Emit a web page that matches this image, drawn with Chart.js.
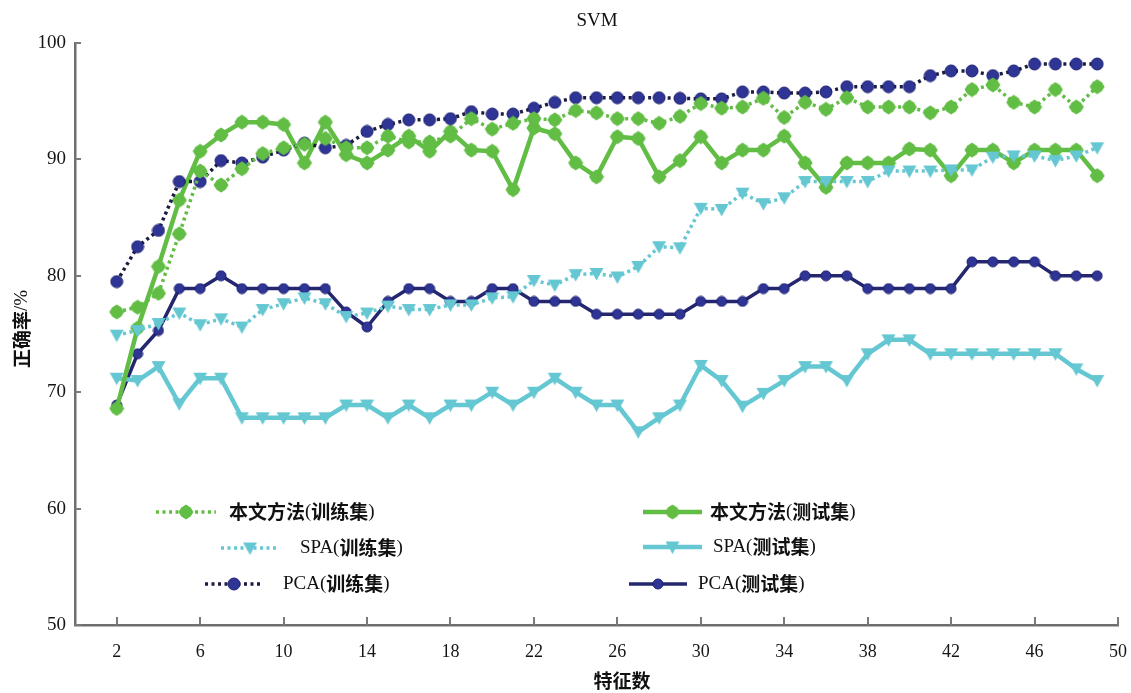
<!DOCTYPE html>
<html>
<head>
<meta charset="utf-8">
<title>SVM</title>
<script src="https://cdn.jsdelivr.net/npm/chart.js@4.4.1/dist/chart.umd.min.js"></script>
<style>
  html, body { margin: 0; padding: 0; background: #ffffff; }
  #wrap { width: 1131px; height: 693px; position: relative; }
</style>
</head>
<body>
<div id="wrap"><canvas id="chart" width="1131" height="693"></canvas></div>
<script>
// Number of features on the x axis
const featureCounts = [2, 3, 4, 5, 6, 7, 8, 9, 10, 11, 12, 13, 14, 15, 16, 17, 18, 19, 20, 21, 22, 23, 24, 25,
                       26, 27, 28, 29, 30, 31, 32, 33, 34, 35, 36, 37, 38, 39, 40, 41, 42, 43, 44, 45, 46, 47, 48, 49];
const xTickValues = [2, 6, 10, 14, 18, 22, 26, 30, 34, 38, 42, 46, 50];
const yTickValues = [50, 60, 70, 80, 90, 100];

// Accuracy (%) per method and data split
const oursTrain = [76.9, 77.3, 78.5, 83.6, 89.0, 87.8, 89.2, 90.5, 91.0, 91.3, 91.8, 91.0, 91.0, 92.0, 91.5, 91.5,
                   92.0, 93.5, 92.6, 93.1, 93.5, 93.4, 94.2, 94.0, 93.5, 93.5, 93.1, 93.7, 94.8, 94.4, 94.5, 95.25,
                   93.6, 94.9, 94.3, 95.3, 94.5, 94.5, 94.5, 94.0, 94.5, 96.0, 96.4, 94.9, 94.5, 96.0, 94.5, 96.25];
const oursTest  = [68.6, 75.5, 80.8, 86.5, 90.7, 92.1, 93.2, 93.2, 93.0, 89.7, 93.2, 90.4, 89.7, 90.8, 92.0, 90.7,
                   92.4, 90.8, 90.7, 87.4, 92.7, 92.2, 89.7, 88.5, 91.95, 91.8, 88.5, 89.9, 91.95, 89.7, 90.8, 90.8,
                   92.0, 89.7, 87.6, 89.7, 89.7, 89.7, 90.9, 90.8, 88.6, 90.8, 90.8, 89.7, 90.8, 90.8, 90.8, 88.6];
const spaTrain  = [74.9, 75.3, 75.9, 76.8, 75.8, 76.3, 75.6, 77.1, 77.6, 78.1, 77.6, 76.5, 76.8, 77.4, 77.1, 77.1,
                   77.5, 77.5, 78.1, 78.2, 79.6, 79.2, 80.1, 80.2, 79.9, 80.8, 82.5, 82.4, 85.8, 85.7, 87.1, 86.2,
                   86.7, 88.1, 88.1, 88.1, 88.1, 89.0, 89.0, 89.0, 89.1, 89.1, 90.2, 90.3, 90.3, 89.9, 90.3, 91.0];
const spaTest   = [71.2, 71.0, 72.2, 69.0, 71.2, 71.2, 67.8, 67.8, 67.8, 67.8, 67.8, 68.9, 68.9, 67.8, 68.9, 67.8,
                   68.9, 68.9, 70.0, 68.9, 70.0, 71.2, 70.0, 68.9, 68.9, 66.6, 67.8, 68.9, 72.3, 71.0, 68.8, 69.9,
                   71.0, 72.2, 72.2, 71.0, 73.3, 74.5, 74.5, 73.3, 73.3, 73.3, 73.3, 73.3, 73.3, 73.3, 72.0, 71.0];
const pcaTrain  = [79.5, 82.5, 83.9, 88.1, 88.1, 89.9, 89.7, 90.2, 90.8, 91.4, 91.0, 91.2, 92.4, 93.0, 93.4, 93.4,
                   93.5, 94.1, 93.9, 93.9, 94.4, 94.9, 95.3, 95.3, 95.3, 95.3, 95.3, 95.25, 95.2, 95.2, 95.8, 95.8,
                   95.7, 95.7, 95.8, 96.25, 96.25, 96.25, 96.25, 97.2, 97.6, 97.6, 97.2, 97.6, 98.2, 98.2, 98.2, 98.2];
const pcaTest   = [68.9, 73.3, 75.3, 78.9, 78.9, 80.0, 78.9, 78.9, 78.9, 78.9, 78.9, 76.9, 75.6, 77.8, 78.9, 78.9,
                   77.8, 77.8, 78.9, 78.9, 77.8, 77.8, 77.8, 76.7, 76.7, 76.7, 76.7, 76.7, 77.8, 77.8, 77.8, 78.9,
                   78.9, 80.0, 80.0, 80.0, 78.9, 78.9, 78.9, 78.9, 78.9, 81.2, 81.2, 81.2, 81.2, 80.0, 80.0, 80.0];

const seriesNames = ['本文方法(训练集)', 'SPA(训练集)', 'PCA(训练集)', '本文方法(测试集)', 'SPA(测试集)', 'PCA(测试集)'];

// ---- styling ----
const GREEN = '#62bd45';
const CYAN = '#64c7d2';
const NAVY = '#2f3595';
const NAVY_LINE = '#24276e';
const DOT_DARK = '#1c1c40';
const SERIF = '"Liberation Serif", "Times New Roman", serif';
const CJK = '"Noto Sans CJK SC", "Noto Sans", sans-serif';

// Marker sprites
function markerCircle(size, fill, edge) {
  const c = document.createElement('canvas');
  c.width = c.height = size;
  const g = c.getContext('2d');
  g.beginPath();
  g.arc(size / 2, size / 2, size / 2 - 1, 0, Math.PI * 2);
  g.fillStyle = fill; g.fill();
  g.lineWidth = 1; g.strokeStyle = edge; g.stroke();
  return c;
}
function markerHex(size, fill) {
  const c = document.createElement('canvas');
  c.width = c.height = size;
  const g = c.getContext('2d');
  const r = size / 2 - 0.5;
  g.beginPath();
  for (let k = 0; k < 8; k++) {
    const a = -Math.PI / 2 + k * Math.PI / 4;
    const rr = (k % 2 === 0) ? r : r * 0.86;
    const px = size / 2 + rr * Math.cos(a), py = size / 2 + rr * Math.sin(a);
    if (k === 0) g.moveTo(px, py); else g.lineTo(px, py);
  }
  g.closePath();
  g.fillStyle = fill; g.fill();
  return c;
}
function markerTriDown(size, fill) {
  const c = document.createElement('canvas');
  c.width = c.height = size;
  const g = c.getContext('2d');
  g.beginPath();
  g.moveTo(0.5, 2);
  g.lineTo(size - 0.5, 2);
  g.lineTo(size / 2, size - 0.5);
  g.closePath();
  g.fillStyle = fill; g.fill();
  return c;
}

const mkGreen = markerHex(16, GREEN);
const mkCyan = markerTriDown(15, CYAN);
const mkNavyBig = markerCircle(14, NAVY, '#1d2070');
const mkNavy = markerCircle(12, NAVY, '#1d2070');

function pts(values) {
  return featureCounts.map((x, i) => ({ x: x, y: values[i] }));
}

const styleDefs = [
  { data: oursTrain, color: GREEN, lineColor: GREEN, dash: [3, 3.5], width: 3.5, marker: mkGreen },
  { data: spaTrain,  color: CYAN,  lineColor: CYAN,  dash: [3, 3.5], width: 3.5, marker: mkCyan },
  { data: pcaTrain,  color: NAVY,  lineColor: DOT_DARK, dash: [3, 3.5], width: 3.5, marker: mkNavyBig },
  { data: oursTest,  color: GREEN, lineColor: GREEN, dash: [], width: 4.5, marker: mkGreen },
  { data: spaTest,   color: CYAN,  lineColor: CYAN,  dash: [], width: 4.5, marker: mkCyan },
  { data: pcaTest,   color: NAVY,  lineColor: NAVY_LINE, dash: [], width: 3.5, marker: mkNavy }
];

const datasets = styleDefs.map((s, i) => ({
  label: seriesNames[i],
  data: pts(s.data),
  borderColor: s.lineColor,
  backgroundColor: s.color,
  borderWidth: s.width,
  borderDash: s.dash,
  borderCapStyle: 'butt',
  borderJoinStyle: 'round',
  pointStyle: s.marker,
  pointRadius: 6,
  pointHoverRadius: 6,
  tension: 0,
  fill: false
}));

// Legend layout: [sample line start, sample line end, row y, text x]
const legendLayout = [
  [156, 216, 512, 229],
  [221, 279, 548, 300],
  [205, 263, 584, 283],
  [643, 702, 512, 710],
  [643, 702, 547, 713],
  [629, 687, 584, 698]
];

function isCJK(ch) { return ch.charCodeAt(0) > 0x2e80; }

// Draw a string mixing bold CJK glyphs and serif Latin glyphs
function drawMixed(ctx, text, x, y, size) {
  let cx = x;
  let run = '', runCJK = null;
  const flush = () => {
    if (!run) return;
    ctx.font = runCJK ? ('bold ' + size + 'px ' + CJK) : (size + 'px ' + SERIF);
    ctx.fillText(run, cx, y);
    cx += ctx.measureText(run).width;
    run = '';
  };
  for (const ch of text) {
    const c = isCJK(ch);
    if (runCJK !== null && c !== runCJK) flush();
    runCJK = c;
    run += ch;
  }
  flush();
  return cx;
}
function measureMixed(ctx, text, size) {
  let w = 0;
  for (const ch of text) {
    ctx.font = isCJK(ch) ? ('bold ' + size + 'px ' + CJK) : (size + 'px ' + SERIF);
    w += ctx.measureText(ch).width;
  }
  return w;
}

const decorations = {
  id: 'decorations',
  afterDraw(chart) {
    const ctx = chart.ctx;
    const xs = chart.scales.x, ys = chart.scales.y;
    const area = chart.chartArea;
    ctx.save();

    // inward tick marks
    ctx.strokeStyle = '#7a7a7a';
    ctx.lineWidth = 2;
    xTickValues.forEach(v => {
      const px = Math.round(xs.getPixelForValue(v));
      ctx.beginPath(); ctx.moveTo(px, area.bottom); ctx.lineTo(px, area.bottom - 8); ctx.stroke();
    });
    yTickValues.forEach(v => {
      const py = Math.round(ys.getPixelForValue(v));
      ctx.beginPath(); ctx.moveTo(area.left, py); ctx.lineTo(area.left + 6, py); ctx.stroke();
    });

    // title
    ctx.fillStyle = '#111';
    ctx.textAlign = 'center';
    ctx.textBaseline = 'middle';
    ctx.font = '19px ' + SERIF;
    ctx.fillText('SVM', 597, 21);

    // x axis title
    ctx.font = 'bold 19px ' + CJK;
    ctx.fillText('特征数', 622, 681);

    // y axis title (rotated)
    ctx.save();
    ctx.translate(22, 329);
    ctx.rotate(-Math.PI / 2);
    ctx.textAlign = 'left';
    const yTitle = '正确率/%';
    const w = measureMixed(ctx, yTitle, 19);
    drawMixed(ctx, yTitle, -w / 2, 0, 19);
    ctx.restore();

    // legend
    ctx.textAlign = 'left';
    ctx.textBaseline = 'middle';
    styleDefs.forEach((s, i) => {
      const [x0, x1, y, tx] = legendLayout[i];
      ctx.save();
      ctx.strokeStyle = s.lineColor;
      ctx.lineWidth = s.width;
      ctx.setLineDash(s.dash);
      ctx.beginPath(); ctx.moveTo(x0, y); ctx.lineTo(x1, y); ctx.stroke();
      ctx.restore();
      const m = s.marker;
      ctx.drawImage(m, (x0 + x1) / 2 - m.width / 2, y - m.height / 2);
      ctx.fillStyle = '#111';
      drawMixed(ctx, seriesNames[i], tx, y, 19);
    });

    ctx.restore();
  }
};

new Chart(document.getElementById('chart'), {
  type: 'line',
  data: { datasets: datasets },
  options: {
    responsive: false,
    animation: false,
    devicePixelRatio: 1,
    layout: { padding: { top: 43, right: 13, left: 0, bottom: 0 } },
    plugins: {
      legend: { display: false },
      title: { display: false },
      tooltip: { enabled: false }
    },
    scales: {
      x: {
        type: 'linear',
        min: 0,
        max: 50,
        afterBuildTicks: s => { s.ticks = xTickValues.map(v => ({ value: v })); },
        afterFit: s => { s.height = 68; s.paddingLeft = 0; s.paddingRight = 0; },
        grid: { display: false, drawTicks: false },
        border: { display: true, color: '#6e6e6e', width: 2.5 },
        ticks: {
          autoSkip: false,
          maxRotation: 0,
          padding: 16,
          color: '#151515',
          font: { family: SERIF, size: 18 }
        }
      },
      y: {
        min: 50,
        max: 100,
        afterBuildTicks: s => { s.ticks = yTickValues.map(v => ({ value: v })); },
        afterFit: s => { s.width = 75; s.paddingTop = 0; s.paddingBottom = 0; },
        grid: { display: false, drawTicks: false },
        border: { display: true, color: '#6e6e6e', width: 2.5 },
        ticks: {
          padding: 9,
          color: '#151515',
          font: { family: SERIF, size: 19 }
        }
      }
    }
  },
  plugins: [decorations]
});
</script>
</body>
</html>
